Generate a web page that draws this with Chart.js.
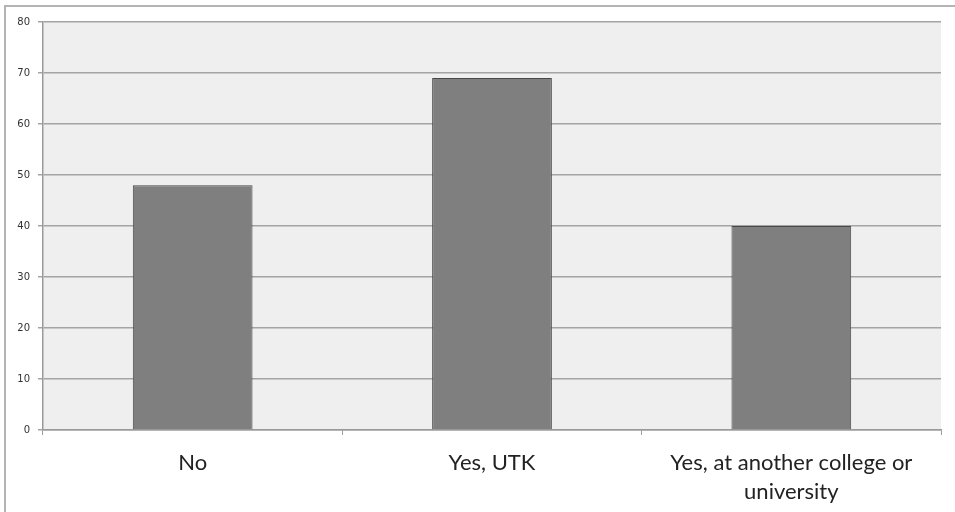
<!DOCTYPE html>
<html>
<head>
<meta charset="utf-8">
<script src="https://cdn.jsdelivr.net/npm/chart.js@4"></script>
<style>
  html, body { margin: 0; padding: 0; background: #fff; }
  #wrap { position: relative; width: 955px; height: 512px; }
  #frame { position: absolute; left: 4px; top: 5px; right: -4px; bottom: -4px;
           border-left: 2px solid #b4b4b4; border-top: 2px solid #b4b4b4; }
  canvas { position: absolute; left: 0; top: 0; }
</style>
</head>
<body>
<div id="wrap">
  <div id="frame"></div>
  <canvas id="myChart" width="955" height="512"></canvas>
</div>
<script>
// answers and counts
var categories = ["No", "Yes, UTK", ["Yes, at another college or", "university"]];
var counts = [48, 69, 40];
var yTicks = [0, 10, 20, 30, 40, 50, 60, 70, 80];

// grey plot background behind the grid
var plotBg = {
  id: "plotBg",
  beforeDraw: function(chart) {
    var a = chart.chartArea, ctx = chart.ctx;
    ctx.save();
    ctx.fillStyle = "#efefef";
    ctx.fillRect(a.left, a.top, a.right - a.left, a.bottom - a.top);
    ctx.restore();
  }
};

new Chart("myChart", {
  type: "bar",
  data: {
    labels: categories,
    datasets: [{
      data: counts,
      backgroundColor: "#7f7f7f",
      borderColor: "#484848",
      borderWidth: 1,
      categoryPercentage: 1.0,
      barPercentage: 0.4
    }]
  },
  plugins: [plotBg],
  options: {
    responsive: false,
    animation: false,
    layout: { padding: { top: 22, right: 14, left: 0, bottom: 0 } },
    plugins: { legend: { display: false }, tooltip: { enabled: false } },
    scales: {
      x: {
        offset: true,
        grid: { offset: true, drawOnChartArea: false, color: "#9a9a9a", tickLength: 5 },
        border: { color: "#9a9a9a", width: 1.5 },
        ticks: {
          padding: 14,
          color: "#222",
          font: { family: "Lato", size: 22, lineHeight: 1.3 },
          maxRotation: 0
        },
        afterFit: function(s) { s.height = 82; }
      },
      y: {
        min: 0,
        max: 80,
        afterBuildTicks: function(s) { s.ticks = yTicks.map(function(v) { return { value: v }; }); },
        grid: { color: "#a4a4a4", lineWidth: 1.5, tickLength: 5 },
        border: { color: "#9a9a9a", width: 1.5 },
        ticks: {
          padding: 8,
          color: "#333",
          font: { family: "DejaVu Sans", size: 10 }
        },
        afterFit: function(s) { s.width = 43; }
      }
    }
  }
});
</script>
</body>
</html>
